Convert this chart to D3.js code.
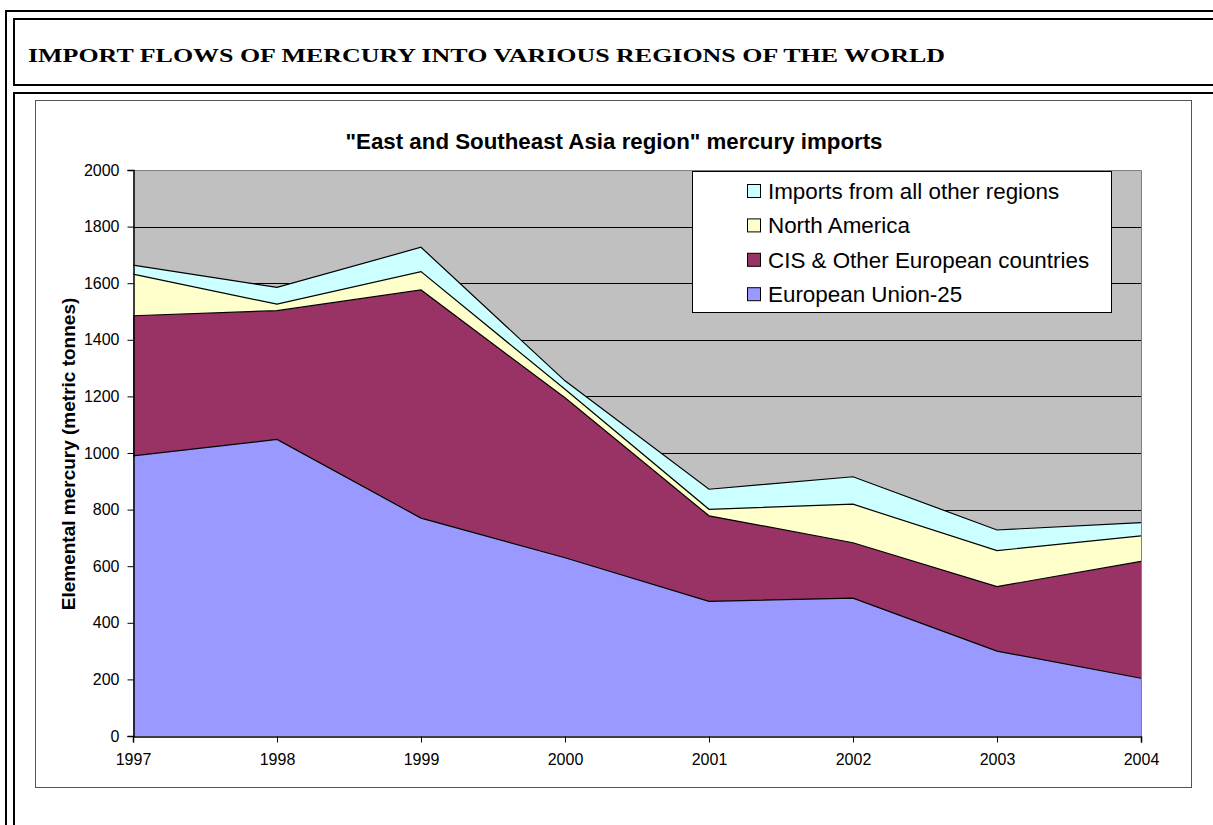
<!DOCTYPE html>
<html>
<head>
    <meta charset="utf-8">
    <script src="https://d3js.org/d3.v7.min.js"></script>
    <style>
        body { margin: 0; background: white; }
        text { font-family: "Liberation Sans", Arial, sans-serif; }
    </style>
</head>
<body>
    <div id="my_dataviz"></div>

    <script>
        // data (metric tonnes)
        var years = [1997, 1998, 1999, 2000, 2001, 2002, 2003, 2004];
        var euValues = [990, 1048, 770, 630, 476, 487, 300, 204];
        var cisValues = [495, 455, 806, 565, 302, 196, 228, 413];
        var naValues = [147, 23, 65, 30, 23, 136, 127, 90];
        var otherValues = [32, 59, 86, 30, 71, 97, 73, 47];
        var seriesNames = ["European Union-25", "CIS & Other European countries", "North America", "Imports from all other regions"];
        var seriesColors = ["#9999FF", "#993366", "#FFFFCC", "#CCFFFF"];
        var yTicks = [0, 200, 400, 600, 800, 1000, 1200, 1400, 1600, 1800, 2000];

        var W = 1213, H = 825;
        var svg = d3.select("#my_dataviz")
            .append("svg")
            .attr("width", W)
            .attr("height", H);

        // page frame (double lines)
        var frame = svg.append("g").attr("stroke", "#000").attr("stroke-width", 2);
        frame.append("line").attr("x1", 5).attr("x2", W).attr("y1", 11).attr("y2", 11);
        frame.append("line").attr("x1", 13).attr("x2", W).attr("y1", 19).attr("y2", 19);
        frame.append("line").attr("x1", 13).attr("x2", W).attr("y1", 85).attr("y2", 85);
        frame.append("line").attr("x1", 13).attr("x2", W).attr("y1", 93).attr("y2", 93);
        frame.append("line").attr("x1", 6).attr("x2", 6).attr("y1", 10).attr("y2", H);
        frame.append("line").attr("x1", 14).attr("x2", 14).attr("y1", 18).attr("y2", 86);
        frame.append("line").attr("x1", 14).attr("x2", 14).attr("y1", 92).attr("y2", H);

        svg.append("text")
            .attr("x", 28).attr("y", 62)
            .style("font-family", "'Liberation Serif', 'Times New Roman', serif")
            .style("font-weight", "bold")
            .style("font-size", "19.5px")
            .attr("textLength", 917)
            .attr("lengthAdjust", "spacingAndGlyphs")
            .text("IMPORT FLOWS OF MERCURY INTO VARIOUS REGIONS OF THE WORLD");

        // chart box
        svg.append("rect")
            .attr("x", 35.5).attr("y", 100.5)
            .attr("width", 1156).attr("height", 687)
            .attr("fill", "white")
            .attr("stroke", "#555");

        svg.append("text")
            .attr("x", 614).attr("y", 149)
            .attr("text-anchor", "middle")
            .style("font-weight", "bold")
            .style("font-size", "22.3px")
            .text("\"East and Southeast Asia region\" mercury imports");

        var margin = { top: 170, left: 133, right: 1141, bottom: 736 };

        var x = d3.scaleLinear()
            .domain([years[0], years[years.length - 1]])
            .range([margin.left, margin.right]);

        var y = d3.scaleLinear()
            .domain([0, 2000])
            .range([margin.bottom, margin.top]);

        // plot background
        svg.append("rect")
            .attr("x", margin.left).attr("y", margin.top)
            .attr("width", margin.right - margin.left)
            .attr("height", margin.bottom - margin.top)
            .attr("fill", "#C0C0C0");

        // gridlines
        svg.append("g")
            .selectAll("line")
            .data(yTicks.filter(function (d) { return d > 0 && d < 2000; }))
            .enter()
            .append("line")
            .attr("x1", margin.left).attr("x2", margin.right)
            .attr("y1", function (d) { return Math.round(y(d)) + 0.5; })
            .attr("y2", function (d) { return Math.round(y(d)) + 0.5; })
            .attr("stroke", "#000");

        // stacked areas
        var table = years.map(function (yr, i) {
            return { year: yr, s0: euValues[i], s1: cisValues[i], s2: naValues[i], s3: otherValues[i] };
        });
        var stack = d3.stack().keys(["s0", "s1", "s2", "s3"]);
        var layers = stack(table);

        var area = d3.area()
            .x(function (d) { return x(d.data.year); })
            .y0(function (d) { return y(d[0]); })
            .y1(function (d) { return y(d[1]); });

        var topLine = d3.line()
            .x(function (d) { return x(d.data.year); })
            .y(function (d) { return y(d[1]); });

        svg.append("g")
            .selectAll("path")
            .data(layers)
            .enter()
            .append("path")
            .attr("d", area)
            .attr("fill", function (d, i) { return seriesColors[i]; });

        svg.append("g")
            .selectAll("path")
            .data(layers)
            .enter()
            .append("path")
            .attr("d", topLine)
            .attr("fill", "none")
            .attr("stroke", "#000")
            .attr("stroke-width", 1.2);

        // plot border top/right
        svg.append("path")
            .attr("d", "M" + margin.left + "," + (margin.top + 0.5) + "H" + (margin.right + 0.5) + "V" + margin.bottom)
            .attr("fill", "none")
            .attr("stroke", "#808080");

        // axes
        var yAxis = d3.axisLeft(y).tickValues(yTicks).tickSize(6).tickPadding(8).tickFormat(d3.format("d"));
        var gy = svg.append("g")
            .attr("transform", "translate(" + (margin.left + 0.5) + ",0)")
            .call(yAxis);

        var xAxis = d3.axisBottom(x).tickValues(years).tickSize(6).tickPadding(11).tickFormat(d3.format("d"));
        var gx = svg.append("g")
            .attr("transform", "translate(0," + (margin.bottom + 0.5) + ")")
            .call(xAxis);

        [gx, gy].forEach(function (g) {
            g.select(".domain").attr("stroke", "#000").attr("stroke-width", 1.5);
            g.selectAll(".tick line").attr("stroke", "#000");
            g.selectAll(".tick text")
                .attr("fill", "#000")
                .style("font-family", "'Liberation Sans', Arial, sans-serif")
                .style("font-size", "16px");
        });

        svg.append("text")
            .attr("transform", "translate(68,454) rotate(-90)")
            .attr("text-anchor", "middle")
            .attr("dy", "0.35em")
            .style("font-weight", "bold")
            .style("font-size", "19px")
            .text("Elemental mercury (metric tonnes)");

        // legend (top series first)
        var legend = svg.append("g");
        legend.append("rect")
            .attr("x", 692.5).attr("y", 171.5)
            .attr("width", 419).attr("height", 141)
            .attr("fill", "white")
            .attr("stroke", "#000");

        var order = [3, 2, 1, 0];
        var rows = legend.selectAll("g.item")
            .data(order)
            .enter()
            .append("g")
            .attr("class", "item")
            .attr("transform", function (d, i) { return "translate(747," + (191 + i * 34.4) + ")"; });

        rows.append("rect")
            .attr("x", 0.5).attr("y", -6.5)
            .attr("width", 13).attr("height", 13)
            .attr("fill", function (d) { return seriesColors[d]; })
            .attr("stroke", "#000");

        rows.append("text")
            .attr("x", 21).attr("dy", "0.35em")
            .style("font-size", "22.4px")
            .text(function (d) { return seriesNames[d]; });
    </script>
</body>
</html>
